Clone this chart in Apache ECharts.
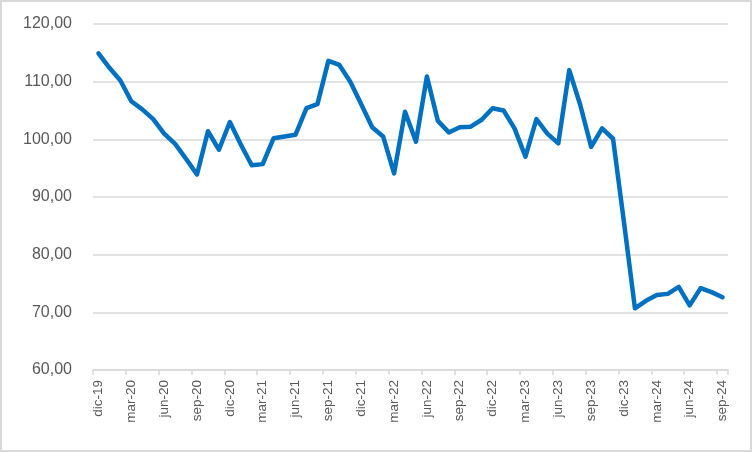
<!DOCTYPE html>
<html><head><meta charset="utf-8">
<script src="https://cdn.jsdelivr.net/npm/echarts@6/dist/echarts.min.js"></script>
<style>
html,body{margin:0;padding:0;background:#fff;}
#c{width:752px;height:452px;box-sizing:border-box;border:2px solid #d9d9d9;}
</style></head>
<body><div id="c"></div>
<script>
const categories = [
 'dic-19','ene-20','feb-20','mar-20','abr-20','may-20','jun-20','jul-20','ago-20','sep-20','oct-20','nov-20',
 'dic-20','ene-21','feb-21','mar-21','abr-21','may-21','jun-21','jul-21','ago-21','sep-21','oct-21','nov-21',
 'dic-21','ene-22','feb-22','mar-22','abr-22','may-22','jun-22','jul-22','ago-22','sep-22','oct-22','nov-22',
 'dic-22','ene-23','feb-23','mar-23','abr-23','may-23','jun-23','jul-23','ago-23','sep-23','oct-23','nov-23',
 'dic-23','ene-24','feb-24','mar-24','abr-24','may-24','jun-24','jul-24','ago-24','sep-24'
];
const values = [
 114.9,112.4,110.2,106.6,105.2,103.5,101.0,99.2,96.6,93.9,101.4,98.2,
 103.0,99.1,95.5,95.7,100.2,100.5,100.8,105.4,106.1,113.6,112.9,110.0,
 106.1,102.1,100.5,94.1,104.8,99.6,110.9,103.2,101.2,102.1,102.2,103.4,
 105.4,105.0,101.9,97.0,103.5,101.0,99.3,112.0,106.0,98.7,101.9,100.1,
 85.6,70.7,72.0,73.0,73.2,74.4,71.2,74.2,73.5,72.6
];
const yMin = 60, yMax = 120, yStep = 10;

const chart = echarts.init(document.getElementById('c'), null, {renderer:'canvas'});
chart.setOption({
  animation:false,
  grid:{left:91, right:22, top:22, bottom:80, containLabel:false},
  xAxis:{
    type:'category', data:categories, boundaryGap:true,
    axisLine:{lineStyle:{color:'#d9d9d9', width:1.5}},
    axisTick:{show:true, interval:2, length:5, lineStyle:{color:'#d9d9d9', width:1.5}},
    axisLabel:{interval:2, rotate:90, color:'#595959', fontSize:13.5,
      fontFamily:'Liberation Sans, Arial, sans-serif', margin:10}
  },
  yAxis:{
    type:'value', min:yMin, max:yMax, interval:yStep,
    axisLine:{show:false}, axisTick:{show:false},
    splitLine:{lineStyle:{color:'#d9d9d9', width:1.5}},
    axisLabel:{color:'#595959', fontSize:16, margin:21,
      fontFamily:'Liberation Sans, Arial, sans-serif',
      formatter:v=>v.toFixed(2).replace('.',',')}
  },
  series:[{
    type:'line', data:values, symbol:'none', smooth:false,
    lineStyle:{color:'#0070C0', width:4.5, cap:'round', join:'round'}
  }]
});
</script></body></html>
